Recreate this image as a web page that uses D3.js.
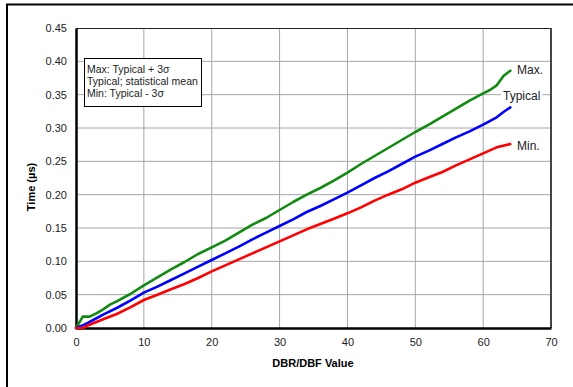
<!DOCTYPE html>
<html lang="en">
<head>
<meta charset="UTF-8">
<title>Time vs DBR/DBF Value</title>
<script src="https://d3js.org/d3.v7.min.js"></script>
<style>
    body { margin: 0; background: #fff; font-family: 'Liberation Sans', Arial, sans-serif; }
    svg { display: block; }
    .tick text { fill: #222; font-size: 11px; }
</style>
</head>
<body>
<svg width="573" height="387"></svg>
<script>
// DBR/DBF value samples and the three curves (µs)
const xMax = [0, 1, 2, 3, 4, 5, 6, 8, 10, 12, 14, 16, 18, 20, 22, 24, 26, 28, 30, 32, 34, 36, 38, 40, 42, 44, 46, 48, 50, 52, 54, 56, 58, 60, 61, 62, 63, 64];
const maxVals = [0, 0.017, 0.017, 0.022, 0.028, 0.035, 0.040, 0.051, 0.064, 0.076, 0.088, 0.099, 0.111, 0.121, 0.131, 0.143, 0.155, 0.165, 0.177, 0.189, 0.200, 0.210, 0.221, 0.233, 0.246, 0.258, 0.270, 0.282, 0.294, 0.305, 0.317, 0.329, 0.341, 0.352, 0.357, 0.364, 0.378, 0.386];

const xTyp = [0, 1, 2, 4, 6, 8, 10, 12, 14, 16, 18, 20, 22, 24, 26, 28, 30, 32, 34, 36, 38, 40, 42, 44, 46, 48, 50, 52, 54, 56, 58, 60, 62, 63, 64];
const typVals = [0, 0.004, 0.009, 0.020, 0.030, 0.041, 0.053, 0.062, 0.072, 0.082, 0.092, 0.102, 0.112, 0.122, 0.133, 0.143, 0.153, 0.163, 0.174, 0.183, 0.193, 0.203, 0.214, 0.225, 0.235, 0.246, 0.257, 0.266, 0.276, 0.286, 0.295, 0.305, 0.316, 0.324, 0.331];

const xMin = [0, 1, 2, 4, 6, 8, 10, 12, 14, 16, 18, 20, 22, 24, 26, 28, 30, 32, 34, 36, 38, 40, 42, 44, 46, 48, 50, 52, 54, 56, 58, 60, 62, 64];
const minVals = [0, 0, 0.005, 0.013, 0.021, 0.031, 0.042, 0.050, 0.058, 0.066, 0.075, 0.085, 0.094, 0.103, 0.112, 0.121, 0.130, 0.139, 0.148, 0.156, 0.164, 0.172, 0.181, 0.191, 0.200, 0.208, 0.218, 0.226, 0.234, 0.244, 0.253, 0.262, 0.271, 0.276];

const xTicks = [0, 10, 20, 30, 40, 50, 60, 70];
const yTicks = [0, 0.05, 0.10, 0.15, 0.20, 0.25, 0.30, 0.35, 0.40, 0.45];
const legendLines = ["Max: Typical + 3σ", "Typical; statistical mean", "Min: Typical - 3σ"];

const series = [
    { name: "Max.", xs: xMax, ys: maxVals, color: "#108a10" },
    { name: "Typical", xs: xTyp, ys: typVals, color: "#0000ff" },
    { name: "Min.", xs: xMin, ys: minVals, color: "#ff0000" }
];

const svg = d3.select("svg");
const plotL = 76, plotT = 28, plotR = 551, plotB = 328;

const x = d3.scaleLinear().domain([0, 70]).range([plotL, plotR]);
const y = d3.scaleLinear().domain([0, 0.45]).range([plotB, plotT]);

// outer frame
svg.append("rect")
    .attr("x", 7).attr("y", 4.5)
    .attr("width", 620).attr("height", 420)
    .attr("fill", "none").attr("stroke", "#000").attr("stroke-width", 2);

// grid
svg.append("g")
    .selectAll("line")
    .data(xTicks.slice(1, -1))
    .join("line")
    .attr("x1", d => x(d)).attr("x2", d => x(d))
    .attr("y1", plotT).attr("y2", plotB)
    .attr("stroke", "#a6a6a6").attr("stroke-width", 1);

svg.append("g")
    .selectAll("line")
    .data(yTicks.slice(1, -1))
    .join("line")
    .attr("x1", plotL).attr("x2", plotR)
    .attr("y1", d => y(d)).attr("y2", d => y(d))
    .attr("stroke", "#a6a6a6").attr("stroke-width", 1);

// top and right frame of plot
svg.append("line").attr("x1", plotL).attr("x2", plotR).attr("y1", plotT + 0.5).attr("y2", plotT + 0.5)
    .attr("stroke", "#222").attr("stroke-width", 1);
svg.append("line").attr("x1", plotR).attr("x2", plotR).attr("y1", plotT).attr("y2", plotB)
    .attr("stroke", "#444").attr("stroke-width", 2);

// axes
const xAxis = svg.append("g")
    .attr("transform", `translate(0,${plotB})`)
    .call(d3.axisBottom(x).tickValues(xTicks).tickSize(0).tickPadding(10).tickFormat(d3.format("d")));
xAxis.select(".domain").attr("stroke", "#000").attr("stroke-width", 2.5);

const yAxis = svg.append("g")
    .attr("transform", `translate(${plotL},0)`)
    .call(d3.axisLeft(y).tickValues(yTicks).tickSize(0).tickPadding(9).tickFormat(d3.format(".2f")));
yAxis.select(".domain").attr("stroke", "#000").attr("stroke-width", 2.5);
svg.selectAll(".tick text").attr("font-family", "'Liberation Sans', Arial, sans-serif");

// lines
const line = d3.line().x(d => x(d[0])).y(d => y(d[1]));
series.forEach(s => {
    svg.append("path")
        .datum(s.xs.map((v, i) => [v, s.ys[i]]))
        .attr("d", line)
        .attr("fill", "none")
        .attr("stroke", s.color)
        .attr("stroke-width", 2.6)
        .attr("stroke-linejoin", "round")
        .attr("stroke-linecap", "round");
});

// end labels with white backing so gridlines stop at the text
const labelPos = [
    { name: "Max.", lx: 517, ly: 70 },
    { name: "Typical", lx: 503, ly: 96 },
    { name: "Min.", lx: 517, ly: 146 }
];
labelPos.forEach(p => {
    const g = svg.append("g");
    const t = g.append("text")
        .attr("x", p.lx).attr("y", p.ly)
        .attr("dy", "0.35em")
        .attr("font-size", 12).attr("fill", "#222")
        .text(p.name);
    const b = t.node().getBBox();
    g.insert("rect", ":first-child")
        .attr("x", b.x - 2).attr("y", b.y)
        .attr("width", b.width + 4).attr("height", b.height)
        .attr("fill", "#fff");
});

// legend box
svg.append("rect")
    .attr("x", 84.5).attr("y", 58.5)
    .attr("width", 117).attr("height", 48)
    .attr("fill", "#fff").attr("stroke", "#000").attr("stroke-width", 1);
svg.append("g")
    .selectAll("text")
    .data(legendLines)
    .join("text")
    .attr("x", 87)
    .attr("y", (d, i) => 69 + i * 12)
    .attr("dy", "0.35em")
    .attr("font-size", 10.5).attr("fill", "#222")
    .text(d => d);

// axis titles
svg.append("text")
    .attr("x", 313).attr("y", 363)
    .attr("dy", "0.35em")
    .attr("text-anchor", "middle")
    .attr("font-size", 11).attr("font-weight", "bold")
    .text("DBR/DBF Value");
svg.append("text")
    .attr("transform", "translate(31,187) rotate(-90)")
    .attr("dy", "0.35em")
    .attr("text-anchor", "middle")
    .attr("font-size", 11).attr("font-weight", "bold")
    .text("Time (µs)");
</script>
</body>
</html>
